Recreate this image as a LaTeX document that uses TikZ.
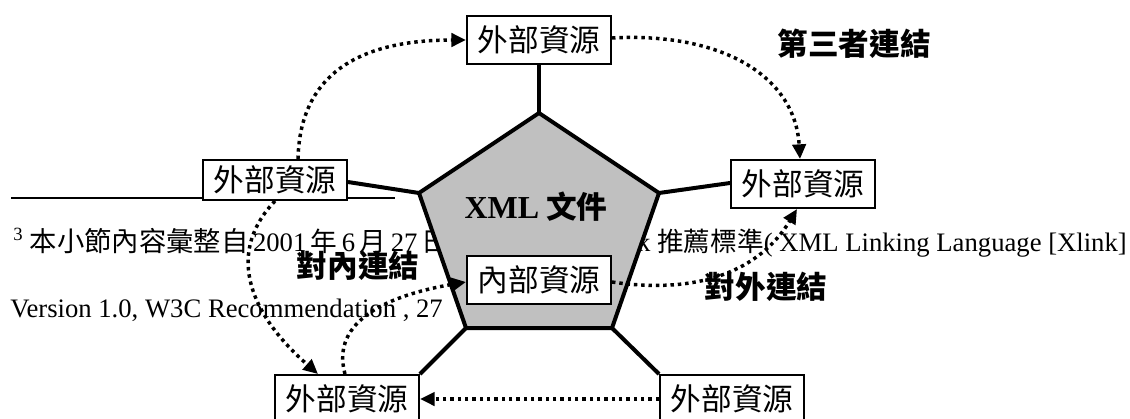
\documentclass[tikz,border=0pt]{standalone}
\usepackage{fontspec}
\setmainfont{Liberation Serif}
\newfontfamily\cjk{Noto Sans CJK TC}
\usetikzlibrary{arrows.meta,calc}
\definecolor{pentgray}{HTML}{C0C0C0}
\begin{document}
\begin{tikzpicture}[x=0.75pt,y=-0.75pt,
  box/.style={draw, line width=1.5pt, fill=white, minimum width=108pt, minimum height=36pt, inner sep=0pt, font=\cjk\fontsize{23}{23}\selectfont},
  lbl/.style={inner sep=0pt, font=\cjk\bfseries\fontsize{23}{23}\selectfont},
  fn/.style={inner sep=0pt, font=\fontsize{20}{20}\selectfont},
  conn/.style={line width=3pt},
  dotarrow/.style={line width=2.6pt, dash pattern=on 2.6pt off 2.9pt, -{Triangle[length=11pt,width=10pt]}}]
\useasboundingbox (0,0) rectangle (1130,418);
% footnote layer (behind the diagram)
\draw[line width=0.8pt] (11,198) -- (395,198);
\node[fn, anchor=base west] (fa) at (13,251) {\textsuperscript{3}\ {\cjk\fontsize{20.5}{20.5}\selectfont 本小節內容彙整自}\,2001\,{\cjk 年}\,6\,{\cjk 月}\,27\,{\cjk 日}};
\node[fn, anchor=base east] (fb) at (1127,251) {XLink {\cjk 推薦標準}( XML Linking Language [Xlink]};
\node[fn, anchor=base west] (fc) at (10,317) {Version 1.0, W3C Recommendation , 27};
% pentagon
\coordinate (p1) at (539,113);
\coordinate (p2) at (659,193);
\coordinate (p3) at (612,328);
\coordinate (p4) at (466,328);
\coordinate (p5) at (419,193);
\draw[line width=3pt, fill=pentgray, line join=miter] (p1) -- (p2) -- (p3) -- (p4) -- (p5) -- cycle;
\node[lbl] (xml) at (536,207) {{\rmfamily\fontsize{24}{24}\selectfont XML} 文件};
% boxes
\node[box] (tb) at (539,40) {外部資源};
\node[box, minimum height=30pt] (lb) at (275,180) {外部資源};
\node[box] (rb) at (803,184) {外部資源};
\node[box] (ib) at (539,280) {內部資源};
\node[box] (bl) at (347,399) {外部資源};
\node[box] (br) at (732,399) {外部資源};
% labels
\node[lbl] (third) at (854,44) {第三者連結};
\node[lbl] (inl) at (358,266) {對內連結};
\node[lbl] (outl) at (766,287) {對外連結};
% solid connectors
\draw[conn] (tb.south) -- (p1);
\draw[conn] ($(lb.east)+(0,2)$) -- (p5);
\draw[conn] (p2) -- ($(rb.west)+(0,-1)$);
\draw[conn] (p4) -- (bl.north east);
\draw[conn] (p3) -- (br.north west);
% dotted arrows
\draw[dotarrow] ($(lb.north)+(23,0)$) .. controls (300,70) and (365,40) .. (tb.west);
\draw[dotarrow] ($(tb.east)+(0,-2)$) .. controls (720,32) and (795,75) .. ($(rb.north)+(-3,0)$);
\draw[dotarrow] (lb.south) .. controls (228,250) and (245,310) .. ($(bl.north)+(-29,0)$);
\draw[dotarrow] ($(bl.north)+(-2,0)$) .. controls (330,320) and (390,295) .. ($(ib.west)+(0,2)$);
\draw[dotarrow] ($(ib.east)+(0,2)$) .. controls (700,295) and (760,270) .. ($(rb.south)+(-6,0)$);
\draw[dotarrow] (br.west) -- (bl.east);
\end{tikzpicture}
\end{document}
